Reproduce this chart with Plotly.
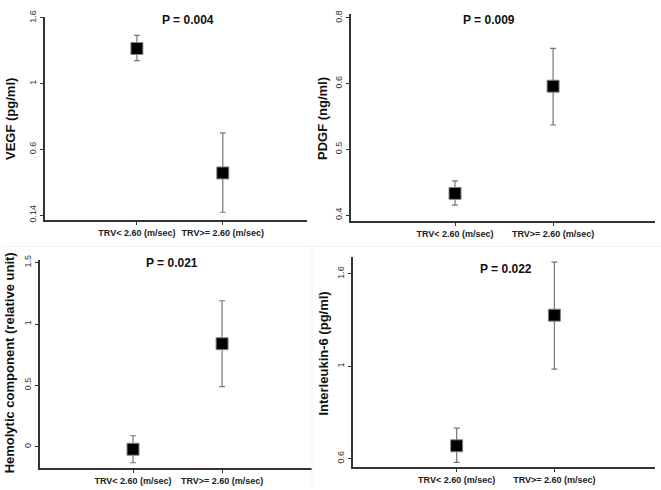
import numpy as np
import plotly.graph_objects as go

# ---------------- data ----------------
categories = ["TRV< 2.60 (m/sec)", "TRV>= 2.60 (m/sec)"]

vegf_mean = [1.32, 0.435]
vegf_upper = [1.44, 0.70]
vegf_lower = [1.21, 0.16]
vegf_ticks = [0.14, 0.6, 1, 1.6]

pdgf_mean = [0.433, 0.596]
pdgf_upper = [0.452, 0.707]
pdgf_lower = [0.415, 0.537]
pdgf_ticks = [0.4, 0.5, 0.6, 0.8]

hemo_mean = [-0.02, 0.84]
hemo_upper = [0.09, 1.19]
hemo_lower = [-0.13, 0.49]
hemo_ticks = [0, 0.5, 1, 1.5]

il6_mean = [0.655, 1.332]
il6_upper = [0.732, 1.677]
il6_lower = [0.583, 0.987]
il6_ticks = [0.6, 1, 1.6]

p_values = ["P = 0.004", "P = 0.009", "P = 0.021", "P = 0.022"]
y_titles = ["VEGF (pg/ml)", "PDGF (ng/ml)",
            "Hemolytic component (relative unit)", "Interleukin-6 (pg/ml)"]


# axis scale: tick labels equally spaced (piecewise-linear scale)
def scale(vals, ticks, equal=True):
    vals = np.asarray(vals, dtype=float)
    if not equal:
        return vals
    t = np.asarray(ticks, dtype=float)
    idx = np.arange(len(t), dtype=float)
    out = np.interp(vals, t, idx)
    lo = vals < t[0]
    hi = vals > t[-1]
    out[lo] = (vals[lo] - t[0]) / (t[1] - t[0])
    out[hi] = idx[-1] + (vals[hi] - t[-1]) / (t[-1] - t[-2])
    return out


panels = [
    dict(mean=vegf_mean, up=vegf_upper, lo=vegf_lower, ticks=vegf_ticks, equal=True,
         yr=[-0.075, 3.015], xr=[-0.07, 2.98],
         dx=[0.0681, 0.4644], dy=[0.5571, 0.9796],
         title_xy=(0.015, 0.767), p_xy=(188, 13)),
    dict(mean=pdgf_mean, up=pdgf_upper, lo=pdgf_lower, ticks=pdgf_ticks, equal=True,
         yr=[-0.09, 3.06], xr=[-0.061, 3.04],
         dx=[0.531, 0.991], dy=[0.5551, 0.9857],
         title_xy=(0.487, 0.769), p_xy=(489, 13)),
    dict(mean=hemo_mean, up=hemo_upper, lo=hemo_lower, ticks=hemo_ticks, equal=False,
         yr=[-0.176, 1.52], xr=[-0.045, 3.01],
         dx=[0.0605, 0.472], dy=[0.0408, 0.4735],
         title_xy=(0.015, 0.261), p_xy=(172, 261)),
    dict(mean=il6_mean, up=il6_upper, lo=il6_lower, ticks=il6_ticks, equal=True,
         yr=[-0.096, 2.18], xr=[-0.061, 3.03],
         dx=[0.534, 0.991], dy=[0.0429, 0.4796],
         title_xy=(0.489, 0.280), p_xy=(506, 267)),
]

W, H = 661, 490
FONT = "Liberation Sans, Arial, sans-serif"
fig = go.Figure()
layout = {}
annotations = []

for i, p in enumerate(panels):
    n = "" if i == 0 else str(i + 1)
    m = scale(p["mean"], p["ticks"], p["equal"])
    u = scale(p["up"], p["ticks"], p["equal"])
    l = scale(p["lo"], p["ticks"], p["equal"])
    fig.add_trace(go.Scatter(
        x=[1, 2], y=m, mode="markers",
        marker=dict(symbol="square", size=12, color="black",
                    line=dict(color="#888", width=1)),
        error_y=dict(type="data", symmetric=False, array=u - m, arrayminus=m - l,
                     color="#777", thickness=1.2, width=3),
        xaxis="x" + n, yaxis="y" + n, showlegend=False,
    ))
    tickpos = scale(p["ticks"], p["ticks"], p["equal"])
    layout["xaxis" + n] = dict(
        domain=p["dx"], range=p["xr"], anchor="y" + n,
        tickvals=[1, 2], ticktext=categories,
        tickfont=dict(family=FONT, size=9, color="#222", weight="bold"),
        ticks="outside", ticklen=3, tickcolor="#333",
        showline=True, linecolor="#333", linewidth=2,
        showgrid=False, zeroline=False, fixedrange=True,
    )
    layout["yaxis" + n] = dict(
        domain=p["dy"], range=p["yr"], anchor="x" + n,
        tickvals=list(tickpos), ticktext=[str(t) for t in p["ticks"]],
        tickangle=-90, tickfont=dict(family=FONT, size=9, color="#333"),
        ticks="outside", ticklen=3, tickcolor="#333",
        showline=True, linecolor="#333", linewidth=2,
        showgrid=False, zeroline=False, fixedrange=True,
    )
    annotations.append(dict(
        x=p["title_xy"][0], y=p["title_xy"][1], xref="paper", yref="paper",
        text=y_titles[i], textangle=-90, showarrow=False,
        font=dict(family=FONT, size=13, color="#111", weight="bold"),
        xanchor="center", yanchor="middle",
    ))
    annotations.append(dict(
        x=p["p_xy"][0] / W, y=1 - p["p_xy"][1] / H, xref="paper", yref="paper",
        text=p_values[i], showarrow=False,
        font=dict(family=FONT, size=12, color="#111", weight="bold"),
        xanchor="center", yanchor="middle",
    ))

shapes = [
    dict(type="line", xref="paper", yref="paper", x0=3 / W, x1=1, y0=1 - 244 / H, y1=1 - 244 / H,
         line=dict(color="#eef2f4", width=1)),
    dict(type="line", xref="paper", yref="paper", x0=312 / W, x1=312 / W, y0=0, y1=1 - 244 / H,
         line=dict(color="#f0f2f4", width=1)),
]

fig.update_layout(
    width=W, height=H, margin=dict(l=0, r=0, t=0, b=0),
    plot_bgcolor="white", paper_bgcolor="white",
    annotations=annotations, shapes=shapes, **layout,
)

fig.write_html("out.html", config={"displayModeBar": False},
               post_script="document.body.style.margin='0';document.body.style.overflow='hidden';")
